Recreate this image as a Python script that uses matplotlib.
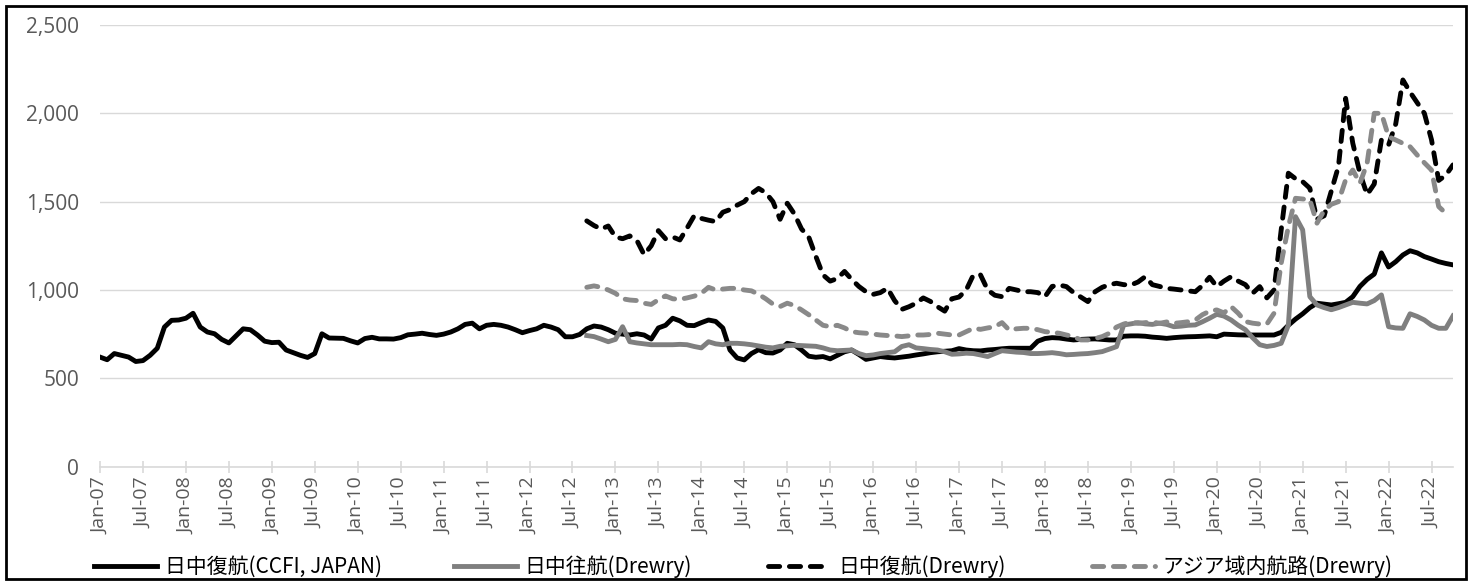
import matplotlib
matplotlib.use("Agg")
import matplotlib.pyplot as plt
from matplotlib.patches import Rectangle
from matplotlib.ticker import FuncFormatter

plt.rcParams["font.family"] = ["Noto Sans CJK JP", "DejaVu Sans"]

# months from Jan-07, one value per month
month_names = ["Jan", "Feb", "Mar", "Apr", "May", "Jun",
               "Jul", "Aug", "Sep", "Oct", "Nov", "Dec"]
n_months = 190
drewry_start = 68  # Sep-12

ccfi_japan = [
    620, 605, 640, 630, 620, 595, 600, 630, 670, 790, 828, 830,
    840, 868, 790, 762, 752, 720, 700, 740, 780, 775, 745, 710,
    702, 704, 660, 645, 630, 618, 640, 752, 728, 727, 726, 712,
    700, 725, 732, 723, 723, 722, 730, 746, 750, 755, 748, 743,
    750, 762, 780, 805, 812, 780, 800, 805, 800, 790, 775, 758,
    770, 780, 800, 790, 775, 735, 735, 748, 780, 796, 790, 775,
    755, 750, 745, 752, 745, 722, 785, 800, 840, 825, 800, 798,
    815, 830, 822, 785, 660, 615, 604, 640, 662, 645, 643, 660,
    698, 690, 660, 625, 619, 623, 610, 630, 650, 660, 635, 607,
    615, 623, 618, 615, 620, 625, 632, 638, 645, 650, 653, 656,
    668, 660, 656, 655, 660, 663, 667, 670, 670, 670, 670, 710,
    725, 730, 728, 722, 717, 720, 722, 723, 720, 717, 717, 738,
    740, 740, 738, 733, 730, 726, 730, 733, 735, 736, 738, 740,
    735, 750, 748, 746, 745, 745, 745, 745, 745, 760, 800, 835,
    865, 900, 925, 920, 915, 922, 930, 962, 1020, 1060, 1090, 1210,
    1130, 1160, 1198, 1222, 1210, 1189, 1175, 1160, 1150, 1142,
]

# 日中往航 (Drewry), from Sep-12
outbound_drewry = [
    742, 736, 722, 707, 720, 792, 707, 700, 695, 690, 690, 690,
    690, 692, 690, 680, 672, 707, 695, 690, 698, 698, 695, 690,
    683, 676, 672, 681, 684, 687, 685, 683, 681, 672, 660, 656,
    658, 660, 640, 628, 632, 640, 645, 650, 680, 690, 672, 668,
    663, 660, 650, 636, 638, 642, 640, 632, 623, 640, 656, 652,
    648, 646, 640, 640, 642, 645, 640, 633, 635, 638, 640, 645,
    651, 665, 679, 802, 808, 815, 808, 805, 812, 805, 792, 795,
    800, 802, 820, 840, 862, 852, 830, 800, 775, 730, 690, 680,
    686, 698, 800, 1415, 1340, 962, 915, 900, 888, 900, 915, 930,
    925, 921, 940, 972, 792, 785, 783, 865, 850, 830, 800, 783,
    783, 853,
]

# 日中復航 (Drewry), from Sep-12
inbound_drewry = [
    1391, 1365, 1345, 1362, 1300, 1290, 1306, 1280, 1200, 1250, 1336, 1290,
    1300, 1283, 1350, 1420, 1405, 1395, 1387, 1440, 1455, 1480, 1500, 1545,
    1575, 1550, 1500, 1400, 1491, 1430, 1345, 1300, 1190, 1085, 1050, 1065,
    1105, 1060, 1020, 990, 975, 985, 1010, 940, 890, 905, 925, 955,
    935, 905, 880, 950, 960, 1000, 1085, 1085, 1000, 970, 962, 1009,
    1000, 990, 990, 985, 962, 1020, 1028, 1019, 985, 960, 934, 990,
    1015, 1030, 1038, 1030, 1028, 1045, 1075, 1030, 1020, 1009, 1005, 1000,
    995, 990, 1025, 1072, 1019, 1050, 1075, 1050, 1030, 981, 1019, 955,
    1000, 1340, 1661, 1630, 1613, 1576, 1400, 1420, 1560, 1700, 2085, 1831,
    1661, 1540, 1600, 1849, 1821, 1940, 2189, 2120, 2060, 2000, 1850, 1620,
    1650, 1708,
]

# アジア域内航路 (Drewry), from Sep-12
intra_asia_drewry = [
    1015, 1023, 1015, 1000, 981, 950, 943, 940, 925, 918, 945, 966,
    950, 947, 955, 965, 981, 1015, 1000, 1005, 1009, 1009, 1000, 995,
    975, 950, 920, 906, 925, 912, 887, 860, 830, 800, 792, 800,
    785, 764, 758, 755, 750, 745, 742, 740, 736, 740, 745, 745,
    748, 755, 750, 745, 745, 764, 783, 777, 785, 792, 815, 773,
    780, 783, 783, 775, 764, 760, 755, 745, 736, 717, 717, 725,
    736, 755, 790, 807, 819, 811, 815, 819, 811, 819, 811, 815,
    820, 830, 860, 880, 887, 870, 906, 868, 821, 812, 807, 807,
    868, 1151, 1359, 1519, 1515, 1510, 1378, 1450, 1485, 1500, 1623, 1679,
    1604, 1717, 2000, 2000, 1868, 1849, 1830, 1811, 1764, 1720, 1679, 1472,
    1434,
]

labels = ["日中復航(CCFI, JAPAN)", "日中往航(Drewry)", "日中復航(Drewry)", "アジア域内航路(Drewry)"]

x_all = list(range(len(ccfi_japan)))
x_out = list(range(drewry_start, drewry_start + len(outbound_drewry)))
x_in = list(range(drewry_start, drewry_start + len(inbound_drewry)))
x_asia = list(range(drewry_start, drewry_start + len(intra_asia_drewry)))

W, H = 1473, 582
fig = plt.figure(figsize=(W / 100, H / 100), dpi=100)
ax = fig.add_axes([100 / W, 1 - 466.6 / H, 1353 / W, (466.6 - 25) / H])

lw = 3.5
dash = (0, (2.3, 2.0))
lines = []
lines += ax.plot(x_all, ccfi_japan, color="black", lw=lw, solid_joinstyle="round")
lines += ax.plot(x_out, outbound_drewry, color="#7f7f7f", lw=lw, solid_joinstyle="round")
lines += ax.plot(x_in, inbound_drewry, color="black", lw=lw, linestyle=dash, dash_capstyle="round")
lines += ax.plot(x_asia, intra_asia_drewry, color="#898989", lw=lw, linestyle=dash, dash_capstyle="round")

ax.set_xlim(0, n_months - 1)
ax.set_ylim(0, 2500)
ax.set_yticks(range(0, 2501, 500))
ax.yaxis.set_major_formatter(FuncFormatter(lambda v, p: f"{int(v):,}"))
ax.grid(axis="y", color="#d9d9d9", lw=1)
ax.set_axisbelow(True)

tick_pos = list(range(0, n_months, 6))
tick_lab = [f"{month_names[m % 12]}-{(7 + m // 12):02d}" for m in tick_pos]
ax.set_xticks(tick_pos)
ax.set_xticklabels(tick_lab, rotation=90)

for s in ["left", "right", "top"]:
    ax.spines[s].set_visible(False)
ax.spines["bottom"].set_color("#d9d9d9")
ax.spines["bottom"].set_linewidth(1.2)

ax.tick_params(axis="y", length=0, pad=15, labelsize=15, labelcolor="#595959")
ax.tick_params(axis="x", direction="inout", length=9, color="#d9d9d9", width=1.2,
               pad=3, labelsize=14, labelcolor="#595959")
for t in ax.get_xticklabels() + ax.get_yticklabels():
    t.set_fontfamily(["Open Sans", "DejaVu Sans"])

# one legend per entry so each sits where it does in the original
legend_x = [94, 454, 768, 1092]
for line, lab, lx in zip(lines, labels, legend_x):
    fig.legend([line], [lab], loc="center left", bbox_to_anchor=(lx / W, 1 - 567 / H),
               frameon=False, fontsize=15, handlelength=3.0, handletextpad=0.4,
               borderpad=0, borderaxespad=0)

fig.patches.append(Rectangle((6 / W, 3 / H), 1460 / W, 573 / H, transform=fig.transFigure,
                             fill=False, edgecolor="black", lw=2))

fig.savefig("out.png", dpi=100)
